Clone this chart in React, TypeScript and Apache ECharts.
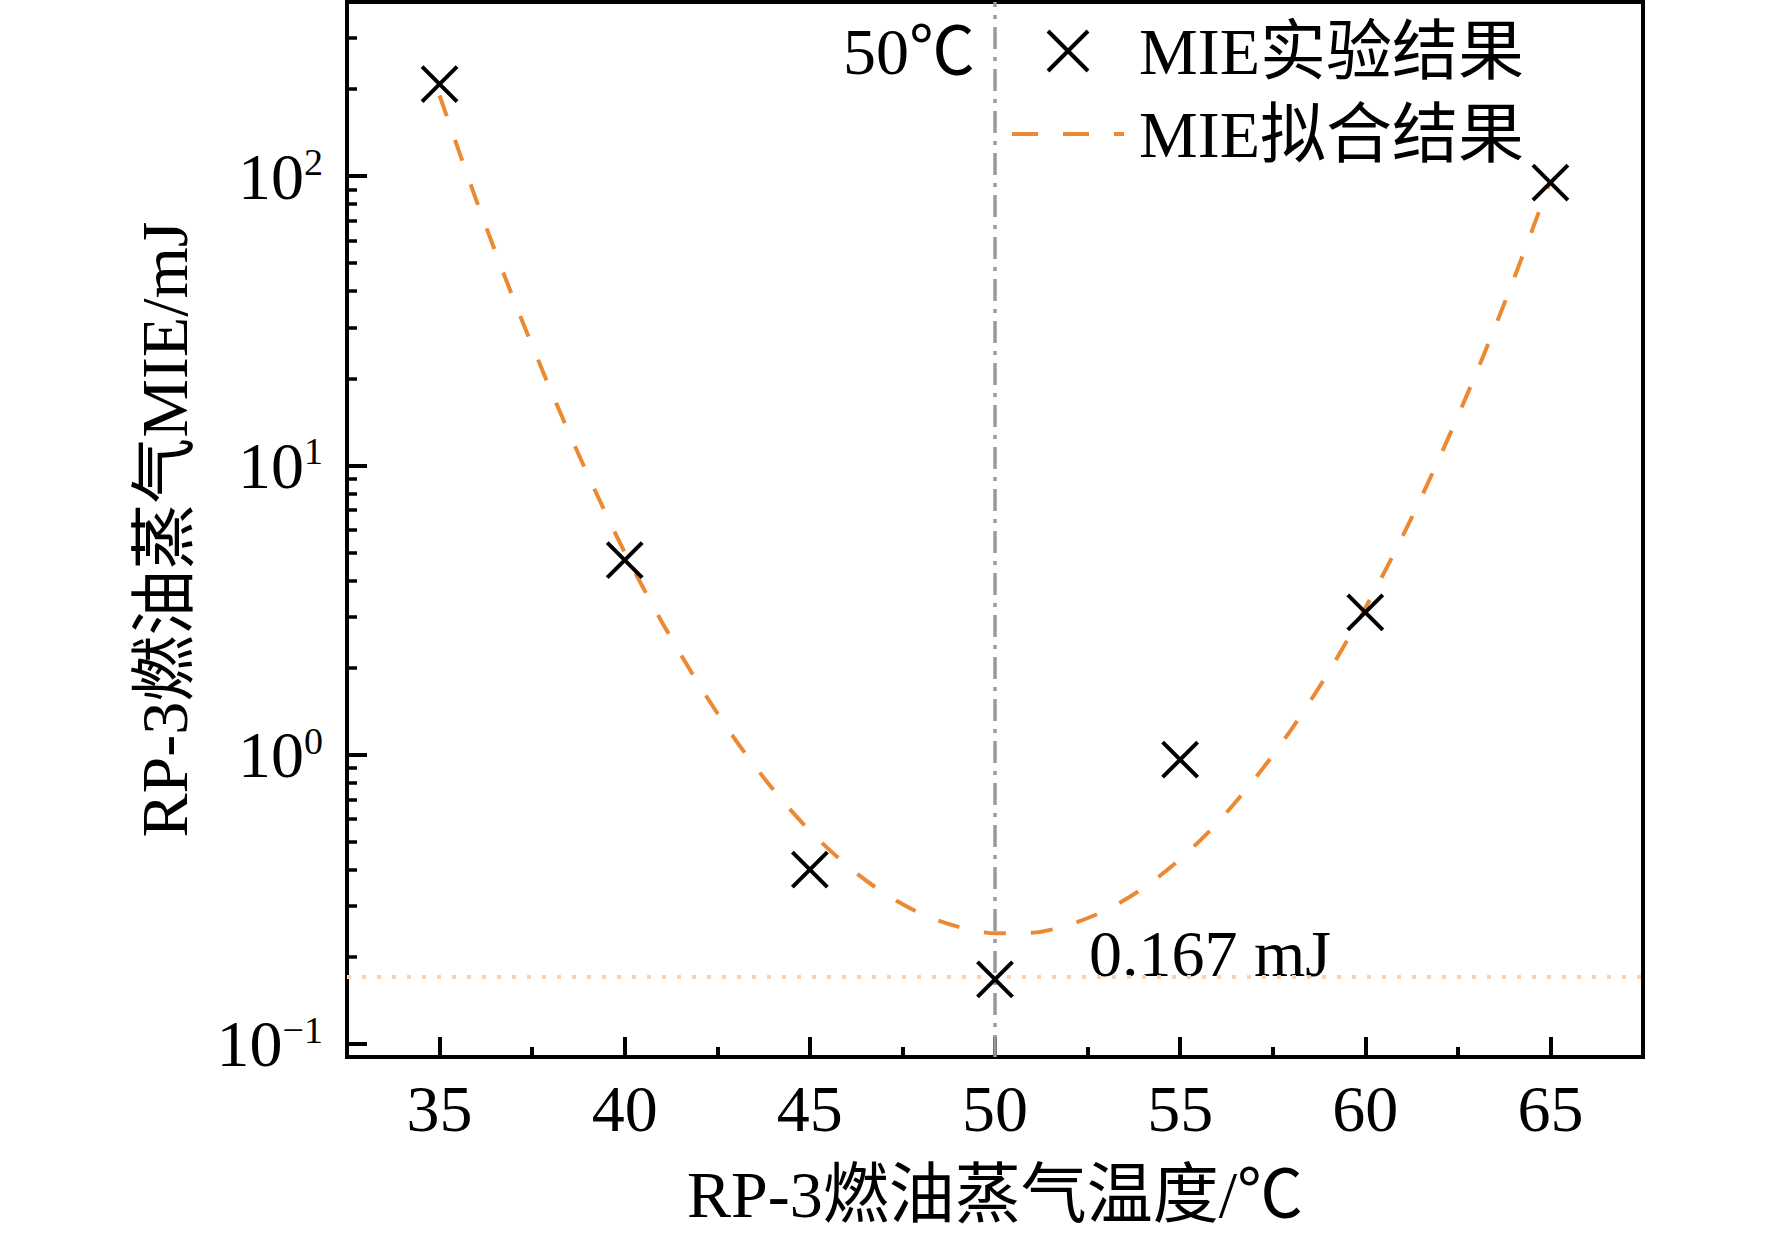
import React, { useEffect, useRef } from "react";
import * as echarts from "echarts";

const expTemps = [35, 40, 45, 50, 55, 60, 65];
const expMIE = [208, 4.7, 0.4, 0.167, 0.96, 3.1, 95];

const fitTemps = [35, 36, 37, 38, 39, 40, 41, 42, 43, 44, 45, 46, 47, 48, 49, 50, 51, 52, 53, 54, 55, 56, 57, 58, 59, 60, 61, 62, 63, 64, 65];
const fitMIE = [190, 82, 37.5, 18.2, 9.3, 5.0, 2.88, 1.75, 1.12, 0.76, 0.545, 0.414, 0.332, 0.282, 0.254, 0.241, 0.242, 0.258, 0.29, 0.345, 0.435, 0.58, 0.82, 1.22, 1.92, 3.21, 5.66, 10.6, 20.9, 43.7, 96.6];

const minMIE = 0.167;
const optTemp = 50;
const legendNames = ["MIE实验结果", "MIE拟合结果"];
const xTitle = "RP-3燃油蒸气温度/℃";
const yTitle = "RP-3燃油蒸气MIE/mJ";
const minLabel = "0.167 mJ";
const tempLabel = "50℃";
const xRange = [32.5, 67.5];
const yRange = [0.09, 400];

const FONT = '"Liberation Serif", "Times New Roman", "Noto Sans CJK SC", serif';
const ORANGE = "#EC8A33";
const CROSS = "path://M0,0L10,10M10,0L0,10";

function supExp(v: number): string {
  const e = Math.round(Math.log10(v));
  const s = e < 0 ? "\u2212" + String(-e) : String(e);
  return "{b|10}{s|" + s + "}";
}

export default function App() {
  const ref = useRef<HTMLDivElement>(null);
  useEffect(() => {
    document.body.style.margin = "0";
    if (!ref.current) return;
    const chart = echarts.init(ref.current, null, { renderer: "svg" });
    const option: any = {
      animation: false,
      backgroundColor: "#fff",
      textStyle: { fontFamily: FONT },
      grid: {
        left: 347,
        right: 129,
        top: 2,
        bottom: 179,
        show: true,
        borderColor: "#000",
        borderWidth: 4,
        backgroundColor: "transparent",
      },
      legend: {
        orient: "vertical",
        left: 1010,
        top: 18,
        padding: 0,
        itemWidth: 112,
        itemHeight: 40,
        itemGap: 17,
        selectedMode: false,
        textStyle: { fontSize: 66, fontFamily: FONT, color: "#000", padding: [0, 0, 0, 10] },
        data: [
          {
            name: legendNames[0],
            itemStyle: { color: "none", borderColor: "#000", borderWidth: 4, opacity: 1 },
          },
          {
            name: legendNames[1],
            itemStyle: { opacity: 0 },
            lineStyle: { color: ORANGE, width: 4, type: [26, 25], opacity: 1 },
          },
        ],
      },
      xAxis: {
        type: "value",
        min: xRange[0],
        max: xRange[1],
        splitNumber: 7,
        name: xTitle,
        nameLocation: "middle",
        nameGap: 104,
        nameTextStyle: { fontSize: 66, fontFamily: FONT, color: "#000" },
        axisLine: { show: true, lineStyle: { color: "#000", width: 4 } },
        axisTick: { show: true, inside: true, length: 20, lineStyle: { color: "#000", width: 4 } },
        minorTick: { show: true, splitNumber: 2, length: 10, lineStyle: { color: "#000", width: 4 } },
        axisLabel: {
          fontSize: 66,
          fontFamily: FONT,
          color: "#000",
          margin: 18,
          showMinLabel: false,
          showMaxLabel: false,
        },
        splitLine: { show: false },
      },
      yAxis: {
        type: "log",
        logBase: 10,
        min: yRange[0],
        max: yRange[1],
        name: yTitle,
        nameLocation: "middle",
        nameGap: 150,
        nameRotate: 90,
        nameTextStyle: { fontSize: 66, fontFamily: FONT, color: "#000" },
        axisLine: { show: true, lineStyle: { color: "#000", width: 4 } },
        axisTick: { show: true, inside: true, length: 20, lineStyle: { color: "#000", width: 4 } },
        minorTick: { show: true, splitNumber: 9, length: 10, lineStyle: { color: "#000", width: 3.5 } },
        axisLabel: {
          margin: 24,
          showMinLabel: false,
          showMaxLabel: false,
          formatter: (v: number) => supExp(v),
          rich: {
            b: { fontSize: 66, fontFamily: FONT, color: "#000" },
            s: { fontSize: 38, fontFamily: FONT, color: "#000", verticalAlign: "top", lineHeight: 44 },
          },
        },
        splitLine: { show: false },
      },
      graphic: [
        {
          type: "text",
          x: 975,
          y: 51,
          silent: true,
          style: {
            text: tempLabel,
            fontSize: 66,
            fontFamily: FONT,
            fill: "#000",
            align: "right",
            verticalAlign: "middle",
          },
        },
        {
          type: "text",
          x: 1089,
          y: 953,
          silent: true,
          style: {
            text: minLabel,
            fontSize: 66,
            fontFamily: FONT,
            fill: "#000",
            align: "left",
            verticalAlign: "middle",
          },
        },
      ],
      series: [
        {
          name: legendNames[1],
          type: "line",
          data: fitTemps.map((t, i) => [t, fitMIE[i]]),
          symbol: "none",
          smooth: 0.3,
          lineStyle: { color: ORANGE, width: 4, type: [22, 25] },
          itemStyle: { color: ORANGE },
          z: 2,
          markLine: {
            silent: true,
            symbol: ["none", "none"],
            label: { show: false },
            emphasis: { disabled: true },
            data: [
              {
                xAxis: optTemp,
                lineStyle: { color: "#999999", width: 3.5, type: [22, 8, 4, 8] },
              },
              {
                yAxis: minMIE,
                lineStyle: { color: "#F6D3B6", width: 4, type: [4, 11] },
              },
            ],
          },
        },
        {
          name: legendNames[0],
          type: "scatter",
          data: expTemps.map((t, i) => [t, expMIE[i]]),
          symbol: CROSS,
          symbolSize: 35,
          itemStyle: { color: "none", borderColor: "#000", borderWidth: 4, opacity: 1 },
          emphasis: { disabled: true },
          z: 5,
        },
      ],
    };
    chart.setOption(option);
    return () => chart.dispose();
  }, []);
  return <div ref={ref} style={{ width: 1772, height: 1236 }} />;
}
